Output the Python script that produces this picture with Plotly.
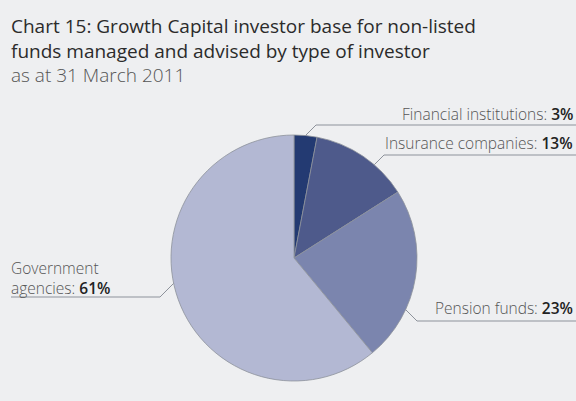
import math
import plotly.graph_objects as go

# ---- data ----
categories = ["Financial institutions", "Insurance companies", "Pension funds", "Government agencies"]
label_prefix = ["Financial institutions: ", "Insurance companies: ", "Pension funds: ", "Government<br>agencies: "]
shares = [3, 13, 23, 61]

# ---- style ----
colors = ["#233a72", "#4e5a8b", "#7b85ae", "#b3b8d3"]
BG = "#eeeff1"
LINE = "#8d929b"
FONT = "Open Sans"

W, H = 576, 401
CX, CY, R = 294, 258, 123

# leader elbows (pixel), horizontal end x, side, text drop
leaders = [
    (316, 125, 576, "right", 3),
    (384, 155, 576, "right", 2),
    (417, 321, 576, "right", 1),
    (160, 297, 11, "left", 5),
]

def px(x):
    return x / W

def py(y):
    return (H - y) / H

fig = go.Figure(
    go.Pie(
        values=shares,
        labels=categories,
        sort=False,
        direction="clockwise",
        rotation=0,
        marker=dict(colors=colors, line=dict(color=LINE, width=0.8)),
        textinfo="none",
        hoverinfo="label+percent",
        showlegend=False,
        domain=dict(x=[px(CX - R), px(CX + R)], y=[py(CY + R), py(CY - R)]),
    )
)

shapes = []
annotations = []
for (ex, ey, hx, side, drop), pre, v in zip(leaders, label_prefix, shares):
    dx = 1 if CX > ex else -1
    dy = 1 if CY > ey else -1
    d = (dx / math.sqrt(2), dy / math.sqrt(2))
    fx, fy = ex - CX, ey - CY
    b = 2 * (fx * d[0] + fy * d[1])
    c = fx * fx + fy * fy - R * R
    t = (-b - math.sqrt(max(b * b - 4 * c, 0))) / 2
    sx, sy = ex + t * d[0], ey + t * d[1]
    shapes.append(dict(type="line", xref="paper", yref="paper",
                       x0=px(sx), y0=py(sy), x1=px(ex), y1=py(ey),
                       line=dict(color=LINE, width=1)))
    shapes.append(dict(type="line", xref="paper", yref="paper",
                       x0=px(ex), y0=py(ey), x1=px(hx), y1=py(ey),
                       line=dict(color=LINE, width=1)))
    txt = f"{pre}<span style='color:#222;font-weight:600'>{v}%</span>"
    lab_font = dict(family=FONT, size=15.5, color="#555", weight=300)
    if side == "right":
        annotations.append(dict(x=px(575), y=py(ey - 1 + drop), xref="paper", yref="paper",
                                xanchor="right", yanchor="bottom", text=txt, showarrow=False,
                                align="right", font=lab_font))
    else:
        annotations.append(dict(x=px(hx - 2), y=py(ey - 1 + drop), xref="paper", yref="paper",
                                xanchor="left", yanchor="bottom", text=txt, showarrow=False,
                                align="left", font=lab_font))

annotations.append(dict(
    x=px(9), y=py(11), xref="paper", yref="paper", xanchor="left", yanchor="top",
    text="Chart 15: Growth Capital investor base for non-listed<br>funds managed and advised by type of investor",
    showarrow=False, align="left", font=dict(family=FONT, size=19, color="#2b2b2b")))
annotations.append(dict(
    x=px(9), y=py(60), xref="paper", yref="paper", xanchor="left", yanchor="top",
    text="as at 31 March 2011",
    showarrow=False, align="left", font=dict(family=FONT, size=19, color="#555", weight=300)))

fig.update_layout(
    width=W, height=H,
    margin=dict(l=0, r=0, t=0, b=0),
    paper_bgcolor=BG, plot_bgcolor=BG,
    shapes=shapes, annotations=annotations,
)

fig.write_html("out.html", config={"displayModeBar": False},
               post_script="document.body.style.margin='0';document.body.style.overflow='hidden';")
